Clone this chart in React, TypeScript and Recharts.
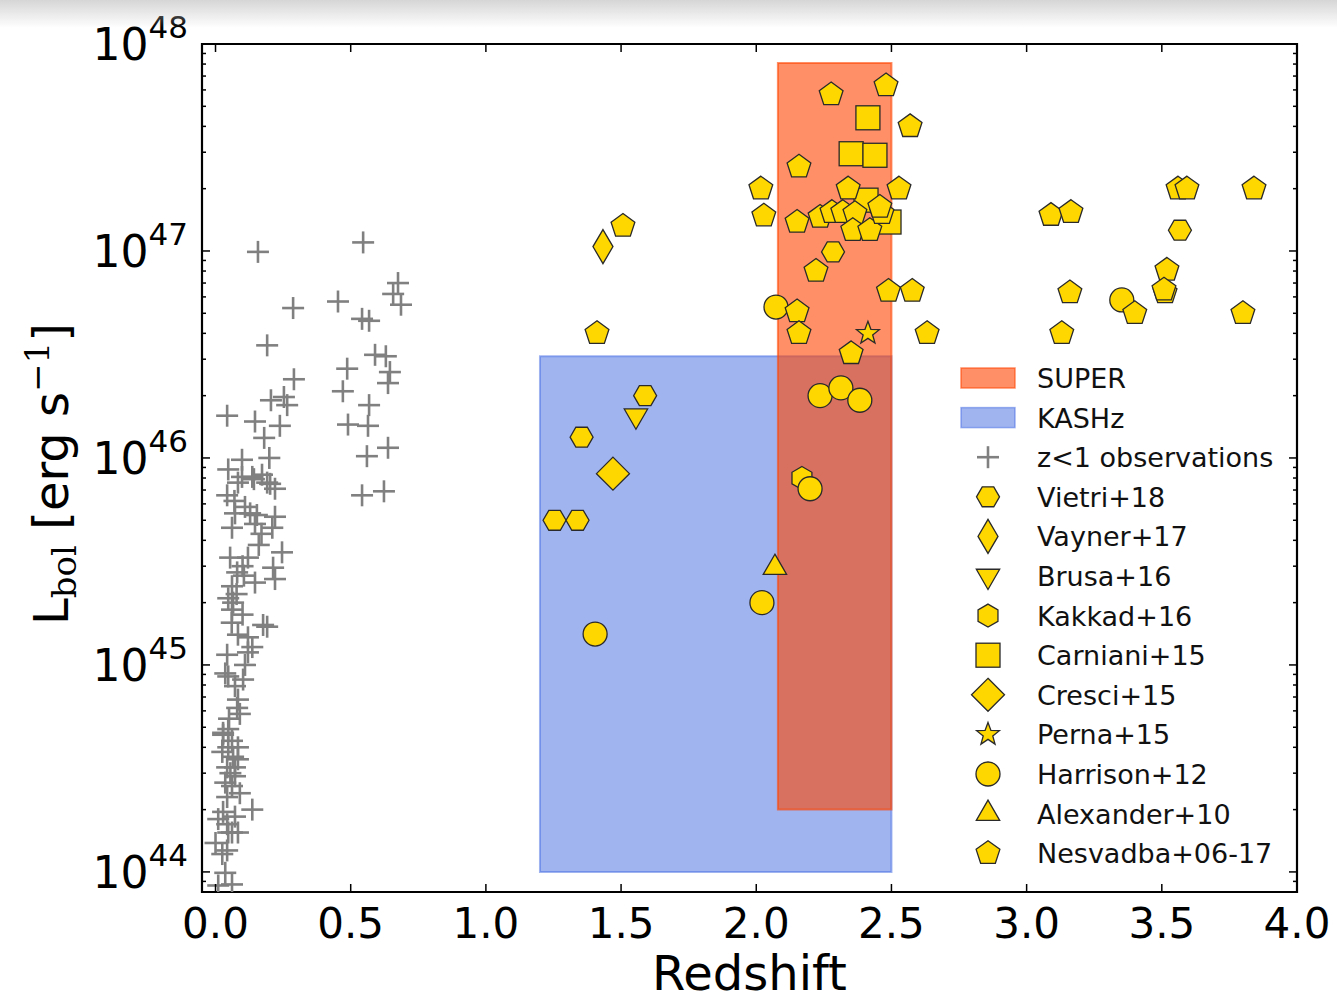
import React from "react";
import { Label, Legend, ReferenceArea, Scatter, ScatterChart, XAxis, YAxis } from "recharts";

type Pt = { z: number; L: number };
const pts = (rows: number[][]): Pt[] => rows.map(([z, L]) => ({ z, L }));

// z<1 observations (grey crosses)
const lowZ = pts([
  [0.157, 9.9e46], [0.546, 1.1e47], [0.675, 7.0e46], [0.657, 6.2e46], [0.686, 5.5e46],
  [0.453, 5.7e46], [0.287, 5.3e46], [0.542, 4.7e46], [0.568, 4.6e46], [0.191, 3.5e46],
  [0.59, 3.15e46], [0.63, 3.1e46], [0.645, 2.6e46], [0.487, 2.7e46], [0.638, 2.3e46],
  [0.29, 2.4e46], [0.471, 2.1e46], [0.253, 1.97e46], [0.205, 1.9e46], [0.265, 1.8e46],
  [0.568, 1.8e46], [0.043, 1.6e46], [0.146, 1.5e46], [0.238, 1.43e46], [0.49, 1.45e46],
  [0.564, 1.43e46], [0.18, 1.25e46], [0.638, 1.12e46], [0.56, 1.02e46], [0.199, 1.0e46],
  [0.098, 9.8e45], [0.047, 8.8e45], [0.136, 8.1e45], [0.191, 7.6e45], [0.22, 7.1e45],
  [0.043, 6.6e45], [0.542, 6.6e45], [0.623, 6.9e45], [0.109, 5.8e45], [0.153, 5.3e45],
  [0.22, 5.2e45], [0.098, 8.1e45], [0.142, 7.9e45], [0.172, 8.3e45], [0.083, 7.6e45],
  [0.202, 7.5e45], [0.072, 5.4e45], [0.128, 5.4e45],
  [0.21, 4.6e45], [0.061, 4.6e45], [0.146, 4.8e45], [0.246, 3.5e45], [0.054, 3.3e45],
  [0.12, 3.3e45], [0.213, 2.95e45], [0.22, 2.6e45], [0.146, 2.5e45], [0.061, 2.4e45],
  [0.047, 2.1e45], [0.065, 2.0e45], [0.061, 1.85e45], [0.176, 1.56e45], [0.191, 1.53e45],
  [0.12, 1.36e45], [0.083, 1.4e45], [0.136, 1.22e45], [0.12, 1.15e45], [0.109, 1.0e45],
  [0.043, 1.12e45], [0.036, 9.1e44], [0.102, 8.5e44], [0.083, 6.8e44], [0.08, 6.2e44],
  [0.047, 4.9e44], [0.028, 4.6e44], [0.047, 4.0e44], [0.083, 4.0e44], [0.025, 3.8e44],
  [0.083, 3.5e44], [0.043, 3.2e44], [0.072, 2.9e44], [0.036, 2.7e44], [0.136, 2.0e44],
  [0.028, 1.95e44], [0.043, 1.7e44], [0.047, 1.55e44], [0.0, 1.38e44], [0.043, 1.27e44],
  [0.036, 9.9e43], [0.01, 8.6e43], [0.061, 8.7e43], [0.17, 4.3e45], [0.1, 3.0e45],
  [0.078, 2.2e45], [0.105, 2.7e45], [0.047, 8.8e44], [0.072, 7.9e44], [0.028, 4.7e44],
  [0.061, 4.3e44], [0.072, 3.2e44], [0.061, 2.6e44], [0.043, 2.3e44], [0.072, 1.85e44],
  [0.01, 1.8e44], [0.061, 1.55e44], [0.083, 1.55e44], [0.025, 1.22e44],
  [0.065, 3.6e44], [0.055, 3.0e44], [0.09, 2.4e44], [0.05, 5.5e44], [0.09, 5.8e44],
  [0.06, 1.6e45], [0.1, 1.75e45], [0.08, 2.8e45], [0.16, 3.8e45], [0.07, 6.2e45],
]);

const vietri = pts([
  [1.354, 1.26e46], [1.254, 5.0e45], [1.339, 5.0e45], [1.589, 2.0e46], [2.284, 9.9e46],
  [3.567, 1.26e47],
]);
const vayner = pts([[1.433, 1.05e47]]);
const brusa = pts([[1.555, 1.6e46]]);
const kakkad = pts([[2.169, 8.0e45]]);
const carniani = pts([
  [2.413, 4.4e47], [2.351, 2.95e47], [2.439, 2.9e47], [2.406, 1.76e47], [2.491, 1.38e47],
]);
const cresci = pts([[1.47, 8.4e45]]);
const perna = pts([[2.413, 4.0e46]]);
const harrison = pts([
  [1.404, 1.41e45], [2.021, 2.0e45], [2.073, 5.36e46], [2.236, 2.0e46], [2.313, 2.18e46],
  [2.383, 1.9e46], [2.199, 7.1e45], [3.352, 5.8e46],
]);
const alexander = pts([[2.069, 2.95e45]]);
const nesvadba = pts([
  [1.411, 4.0e46], [1.507, 1.32e47], [2.017, 2.0e47], [2.028, 1.48e47], [2.277, 5.7e47],
  [2.48, 6.3e47], [2.569, 4.0e47], [2.158, 2.55e47], [2.151, 1.38e47], [2.528, 2.0e47],
  [2.34, 2.0e47], [2.221, 8.0e46], [2.151, 5.1e46], [2.158, 4.0e46], [2.351, 3.2e46],
  [2.489, 6.4e46], [2.577, 6.4e46], [2.632, 4.0e46],
  [2.236, 1.46e47], [2.28, 1.54e47], [2.32, 1.54e47], [2.365, 1.52e47], [2.357, 1.26e47],
  [2.42, 1.26e47], [2.465, 1.52e47], [2.457, 1.63e47],
  [3.09, 1.49e47], [3.164, 1.54e47], [3.56, 2.0e47], [3.593, 2.0e47], [3.841, 2.0e47],
  [3.519, 8.1e46], [3.512, 6.3e46], [3.508, 6.5e46], [3.16, 6.3e46], [3.40, 5.0e46],
  [3.8, 5.0e46], [3.13, 4.0e46],
]);

// survey boxes: [zMin, zMax, Lmin, Lmax]
const superBox = [2.08, 2.5, 2.0e44, 8.1e47];
const kashzBox = [1.2, 2.5, 1.0e44, 3.1e46];

const xTicks = [0, 0.5, 1, 1.5, 2, 2.5, 3, 3.5, 4];
const yTicks = [9e43];
for (const e of [44, 45, 46, 47]) for (let m = 1; m <= 9; m++) yTicks.push(m * 10 ** e);
yTicks.push(1e48);

const X_DOMAIN = [-0.05, 4.0];
const Y_DOMAIN = [10 ** 43.903, 1e48];

const W = 1329;
const H = 990;
const M = { top: 36, right: 40, bottom: 46, left: 44 };
const Y_W = 150;
const X_H = 60;
const PLOT_TOP = M.top;
const PLOT_RIGHT = W - M.right;

const FONT = "DejaVu Sans, Bitstream Vera Sans, sans-serif";
const SERIF = "DejaVu Serif, serif";
const GOLD = "#FFD700";
const EDGE = "#2a2a2a";

function polyPoints(cx: number, cy: number, n: number, r: number, rotDeg: number) {
  const out: string[] = [];
  for (let i = 0; i < n; i++) {
    const a = ((rotDeg + (360 / n) * i) * Math.PI) / 180;
    out.push(`${cx + r * Math.cos(a)},${cy + r * Math.sin(a)}`);
  }
  return out.join(" ");
}

function starPoints(cx: number, cy: number, ro: number, ri: number) {
  const out: string[] = [];
  for (let i = 0; i < 10; i++) {
    const r = i % 2 === 0 ? ro : ri;
    const a = ((-90 + 36 * i) * Math.PI) / 180;
    out.push(`${cx + r * Math.cos(a)},${cy + r * Math.sin(a)}`);
  }
  return out.join(" ");
}

type Kind =
  | "plus" | "hexFlat" | "thinDiamond" | "triDown" | "hexPointy" | "square"
  | "diamond" | "star" | "circle" | "triUp" | "pentagon";

function Marker({ kind, cx, cy }: { kind: Kind; cx: number; cy: number }) {
  const common = { fill: GOLD, stroke: EDGE, strokeWidth: 1.3 };
  switch (kind) {
    case "plus":
      return (
        <g stroke="#808080" strokeWidth={2.6}>
          <line x1={cx - 11} y1={cy} x2={cx + 11} y2={cy} />
          <line x1={cx} y1={cy - 11} x2={cx} y2={cy + 11} />
        </g>
      );
    case "hexFlat":
      return <polygon points={polyPoints(cx, cy, 6, 11.5, 0)} {...common} />;
    case "hexPointy":
      return <polygon points={polyPoints(cx, cy, 6, 11.5, -90)} {...common} />;
    case "thinDiamond":
      return <polygon points={`${cx},${cy - 17} ${cx + 10},${cy} ${cx},${cy + 17} ${cx - 10},${cy}`} {...common} />;
    case "triDown":
      return <polygon points={polyPoints(cx, cy, 3, 13.5, 90)} {...common} />;
    case "triUp":
      return <polygon points={polyPoints(cx, cy, 3, 13.5, -90)} {...common} />;
    case "square":
      return <rect x={cx - 12} y={cy - 12} width={24} height={24} {...common} />;
    case "diamond":
      return <polygon points={polyPoints(cx, cy, 4, 16.5, -90)} {...common} />;
    case "star":
      return <polygon points={starPoints(cx, cy, 12, 5)} {...common} />;
    case "circle":
      return <circle cx={cx} cy={cy} r={12} {...common} />;
    case "pentagon":
    default:
      return <polygon points={polyPoints(cx, cy, 5, 12.5, -90)} {...common} />;
  }
}

const series: { name: string; data: Pt[]; kind: Kind }[] = [
  { name: "z<1 observations", data: lowZ, kind: "plus" },
  { name: "Vietri+18", data: vietri, kind: "hexFlat" },
  { name: "Vayner+17", data: vayner, kind: "thinDiamond" },
  { name: "Brusa+16", data: brusa, kind: "triDown" },
  { name: "Kakkad+16", data: kakkad, kind: "hexPointy" },
  { name: "Carniani+15", data: carniani, kind: "square" },
  { name: "Cresci+15", data: cresci, kind: "diamond" },
  { name: "Perna+15", data: perna, kind: "star" },
  { name: "Harrison+12", data: harrison, kind: "circle" },
  { name: "Alexander+10", data: alexander, kind: "triUp" },
  { name: "Nesvadba+06-17", data: nesvadba, kind: "pentagon" },
];

const boxes = [
  { name: "SUPER", box: superBox, color: "#FF4500", alpha: 0.6 },
  { name: "KASHz", box: kashzBox, color: "#4169E1", alpha: 0.5 },
];

function XTick(props: any) {
  const { x, y, payload } = props;
  return (
    <g>
      <line x1={x} y1={y} x2={x} y2={y - 8} stroke="#000" strokeWidth={1.5} />
      <line x1={x} y1={PLOT_TOP} x2={x} y2={PLOT_TOP + 8} stroke="#000" strokeWidth={1.5} />
      <text x={x} y={y + 46} textAnchor="middle" fontSize={42} fontFamily={FONT} fill="#000">
        {Number(payload.value).toFixed(1)}
      </text>
    </g>
  );
}

function YTick(props: any) {
  const { x, y, payload } = props;
  const e = Math.log10(payload.value);
  const major = Math.abs(e - Math.round(e)) < 1e-6;
  const len = major ? 8 : 4;
  return (
    <g>
      <line x1={x} y1={y} x2={x + len} y2={y} stroke="#000" strokeWidth={1.5} />
      <line x1={PLOT_RIGHT} y1={y} x2={PLOT_RIGHT - len} y2={y} stroke="#000" strokeWidth={1.5} />
      {major && (
        <text x={x - 14} y={y + 16} textAnchor="end" fontSize={44} fontFamily={FONT} fill="#000">
          10
          <tspan dy={-22} fontSize={31}>
            {Math.round(e)}
          </tspan>
        </text>
      )}
    </g>
  );
}

function LegendBox() {
  const rowH = 39.6;
  const iconX = 38;
  const textX = 87;
  const rows = [
    ...boxes.map((b) => ({ name: b.name, box: b })),
    ...series.map((s) => ({ name: s.name, kind: s.kind })),
  ];
  return (
    <svg width={340} height={520} style={{ overflow: "visible" }}>
      {rows.map((r: any, i) => {
        const cy = 23 + i * rowH;
        return (
          <g key={r.name}>
            {r.box ? (
              <rect
                x={iconX - 27}
                y={cy - 10}
                width={54}
                height={20}
                fill={r.box.color}
                fillOpacity={r.box.alpha}
                stroke={r.box.color}
                strokeOpacity={r.box.alpha}
                strokeWidth={1.5}
              />
            ) : (
              <Marker kind={r.kind} cx={iconX} cy={cy} />
            )}
            <text x={textX} y={cy + 10} fontSize={27} fontFamily={FONT} fill="#111">
              {r.name}
            </text>
          </g>
        );
      })}
    </svg>
  );
}

export default function App() {
  return (
    <div style={{ position: "relative", width: W, height: H, background: "#fff" }}>
      <div
        style={{
          position: "fixed",
          left: 0,
          top: 0,
          width: "100%",
          height: 28,
          background: "linear-gradient(to bottom, rgba(200,200,200,0.75), rgba(255,255,255,0))",
          pointerEvents: "none",
          zIndex: 5,
        }}
      />
      <ScatterChart width={W} height={H} margin={M}>
        <XAxis
          type="number"
          dataKey="z"
          domain={X_DOMAIN}
          allowDataOverflow
          ticks={xTicks}
          interval={0}
          tick={<XTick />}
          tickLine={false}
          tickSize={0}
          tickMargin={0}
          axisLine={false}
          height={X_H}
        >
          <Label
            content={(p: any) => (
              <text
                x={p.viewBox.x + p.viewBox.width / 2}
                y={p.viewBox.y + 98}
                textAnchor="middle"
                fontSize={48}
                fontFamily={FONT}
                fill="#000"
              >
                Redshift
              </text>
            )}
          />
        </XAxis>
        <YAxis
          type="number"
          dataKey="L"
          scale="log"
          domain={Y_DOMAIN}
          allowDataOverflow
          ticks={yTicks}
          interval={0}
          tick={<YTick />}
          tickLine={false}
          tickSize={0}
          tickMargin={0}
          axisLine={false}
          width={Y_W}
        >
          <Label
            content={(p: any) => {
              const lx = p.viewBox.x + 16;
              const ly = p.viewBox.y + p.viewBox.height / 2 + 6;
              return (
                <text
                  x={lx}
                  y={ly}
                  transform={`rotate(-90 ${lx} ${ly})`}
                  textAnchor="middle"
                  fontSize={48}
                  fontFamily={FONT}
                  fill="#000"
                >
                  L
                  <tspan fontFamily={SERIF} fontSize={34} dy={8}>
                    bol
                  </tspan>
                  <tspan dy={-8}> [erg s</tspan>
                  <tspan fontFamily={SERIF} fontSize={34} dy={-19}>
                    −1
                  </tspan>
                  <tspan dy={19}>]</tspan>
                </text>
              );
            }}
          />
        </YAxis>
        {[...boxes].reverse().map((b) => (
          <ReferenceArea
            key={b.name}
            x1={b.box[0]}
            x2={b.box[1]}
            y1={b.box[2]}
            y2={b.box[3]}
            fill={b.color}
            fillOpacity={b.alpha}
            stroke={b.color}
            strokeOpacity={b.alpha}
            strokeWidth={2}
            ifOverflow="visible"
          />
        ))}
        <ReferenceArea
          x1={X_DOMAIN[0]}
          x2={X_DOMAIN[1]}
          y1={Y_DOMAIN[0]}
          y2={Y_DOMAIN[1]}
          fill="none"
          stroke="#000"
          strokeWidth={2.2}
          ifOverflow="visible"
        />
        {series.map((s) => (
          <Scatter
            key={s.name}
            name={s.name}
            data={s.data}
            isAnimationActive={false}
            shape={(p: any) => <Marker kind={s.kind} cx={p.cx} cy={p.cy} />}
          />
        ))}
        <Legend
          layout="vertical"
          align="center"
          verticalAlign="middle"
          wrapperStyle={{ left: 942, top: 347, width: 340, height: 520 }}
          content={() => <LegendBox />}
        />
      </ScatterChart>
    </div>
  );
}
